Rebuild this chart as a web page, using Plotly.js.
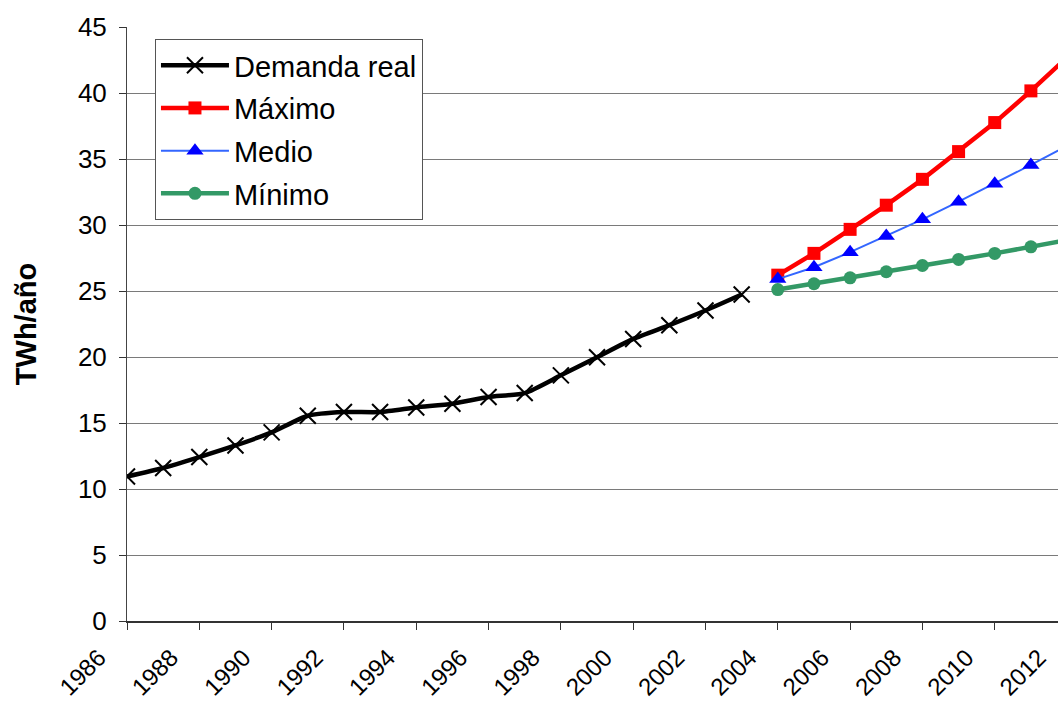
<!DOCTYPE html>
<html>
<head>
<meta charset="utf-8">
<script src="https://cdn.plot.ly/plotly-3.0.1.min.js"></script>
<style>html,body{margin:0;padding:0;background:#fff;overflow:hidden;}#chart{width:1075px;height:702px;}</style>
</head>
<body>
<div id="chart"></div>
<script>
var yearsReal = [1986,1987,1988,1989,1990,1991,1992,1993,1994,1995,1996,1997,1998,1999,2000,2001,2002,2003];
var demandaReal = [10.95,11.59,12.42,13.30,14.29,15.55,15.83,15.83,16.18,16.46,16.97,17.27,18.61,19.98,21.37,22.41,23.52,24.73];
var yearsProj = [2004,2005,2006,2007,2008,2009,2010,2011,2012];
var maximo = [26.2,27.85,29.67,31.5,33.46,35.56,37.76,40.16,42.7];
var medio = [25.9,26.8,27.94,29.16,30.43,31.77,33.13,34.55,36.0];
var minimo = [25.11,25.55,26.0,26.46,26.93,27.39,27.85,28.35,28.85];
var tickYears = [1986,1988,1990,1992,1994,1996,1998,2000,2002,2004,2006,2008,2010,2012];

var traces = [
  {x: yearsReal, y: demandaReal, name: 'Demanda real', mode: 'lines+markers', legendgroup: 'a',
   line: {color: '#000000', width: 4.5, shape: 'spline', smoothing: 0.6},
   marker: {symbol: 'x-thin', size: 16, color: '#000000', line: {color: '#000000', width: 2}}},
  {x: yearsProj, y: maximo, name: 'Máximo', mode: 'lines+markers', legendgroup: 'b',
   line: {color: '#FF0000', width: 4.5},
   marker: {symbol: 'square', size: 13, color: '#FF0000'}},
  {x: yearsProj, y: medio, name: 'Medio', mode: 'lines+markers', legendgroup: 'c',
   line: {color: '#3366FF', width: 2},
   marker: {symbol: 'triangle-up', size: 15, color: '#0000FF'}},
  {x: yearsProj, y: minimo, name: 'Mínimo', mode: 'lines+markers', legendgroup: 'd',
   line: {color: '#339966', width: 4.5},
   marker: {symbol: 'circle', size: 13, color: '#339966'}}
];

var layout = {
  width: 1075, height: 702,
  margin: {l: 127, r: 0, t: 27, b: 81},
  paper_bgcolor: '#ffffff', plot_bgcolor: '#ffffff',
  font: {family: 'Liberation Sans, Arial, sans-serif', color: '#000000', size: 26},
  showlegend: true,
  legend: {
    x: 0.0295, y: 0.980, xanchor: 'left', yanchor: 'top',
    bgcolor: '#ffffff', bordercolor: '#555555', borderwidth: 1,
    font: {size: 29, color: '#000000'}, tracegroupgap: 2, itemwidth: 68,
    traceorder: 'grouped'
  },
  xaxis: {
    range: [1986, 2012.22], tickmode: 'array', tickvals: tickYears, ticktext: tickYears.map(String),
    tickangle: -45, ticks: 'outside', ticklen: 7, tickcolor: '#333', tickwidth: 1,
    ticklabelstandoff: 4, ticklabelshift: -28,
    showgrid: false, zeroline: false, showline: true, linecolor: '#333', linewidth: 2,
    tickfont: {size: 24}
  },
  yaxis: {
    range: [0, 45], tickmode: 'linear', tick0: 0, dtick: 5,
    ticks: 'outside', ticklen: 7, tickcolor: '#333', tickwidth: 1,
    ticklabelstandoff: 7,
    showgrid: true, gridcolor: '#7a7a7a', gridwidth: 1, zeroline: false,
    showline: true, linecolor: '#444', linewidth: 1,
    tickfont: {size: 26},
    title: {text: '<b>TWh/año</b>', font: {size: 29}, standoff: 32}
  }
};

Plotly.newPlot('chart', traces, layout, {staticPlot: true, displayModeBar: false});
</script>
</body>
</html>
